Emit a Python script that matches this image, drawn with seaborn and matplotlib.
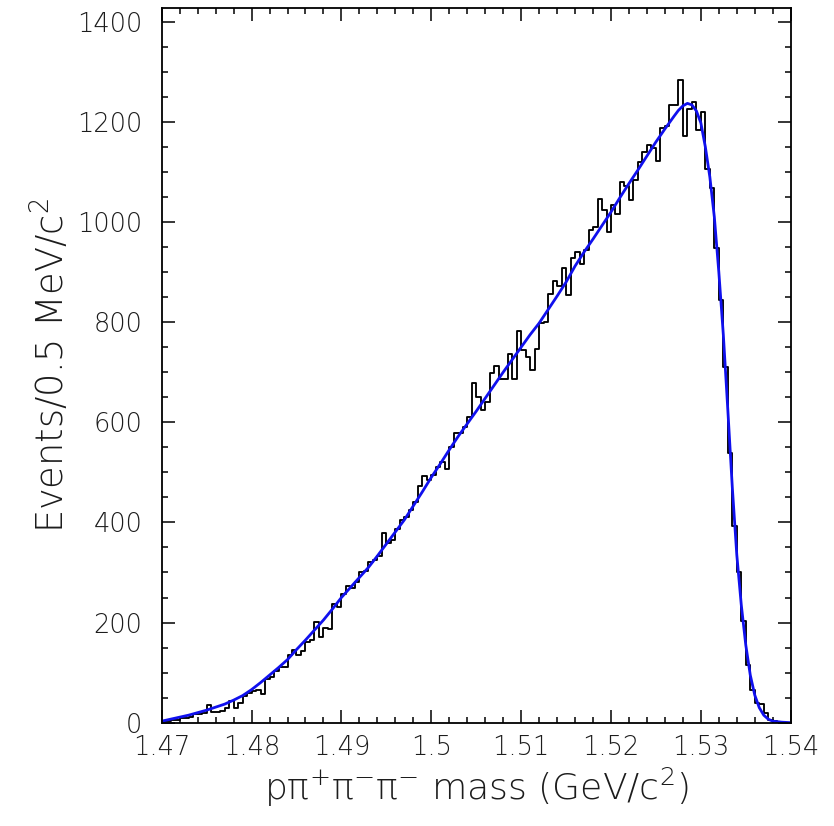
import numpy as np
import pandas as pd
import matplotlib
matplotlib.use("Agg")
import matplotlib.pyplot as plt
import matplotlib.ticker as mtick
import seaborn as sns

# contagens por bin de 0.5 MeV, de 1.47 a 1.54 GeV (140 bins)
contagens = [
    3, 4, 5, 6, 9, 10, 11, 17, 17, 19,
    36, 21, 22, 23, 29, 44, 29, 40, 54, 60,
    64, 66, 57, 87, 92, 104, 112, 112, 136, 145,
    136, 143, 161, 165, 201, 171, 189, 187, 237, 231,
    257, 273, 269, 281, 301, 303, 320, 325, 332, 379,
    359, 365, 387, 404, 411, 425, 440, 472, 492, 484,
    494, 511, 521, 507, 551, 579, 579, 591, 611, 678,
    651, 625, 641, 699, 712, 687, 687, 736, 687, 782,
    745, 731, 704, 747, 799, 801, 856, 882, 872, 909,
    854, 929, 941, 916, 944, 984, 990, 1047, 1024, 981,
    1034, 1017, 1079, 1072, 1045, 1084, 1120, 1139, 1153, 1147,
    1122, 1188, 1192, 1234, 1234, 1284, 1171, 1225, 1239, 1184,
    1220, 1105, 1067, 949, 844, 711, 539, 392, 300, 203,
    115, 65, 40, 38, 20, 6, 3, 1, 0, 0,
]

# curva do ajuste (massa em GeV, eventos por bin)
ajuste_x = [
    1.470, 1.471, 1.472, 1.473, 1.474, 1.475, 1.476, 1.477, 1.478, 1.479,
    1.480, 1.481, 1.482, 1.483, 1.484, 1.485, 1.486, 1.487, 1.488, 1.489,
    1.490, 1.491, 1.492, 1.493, 1.494, 1.495, 1.496, 1.497, 1.498, 1.499,
    1.500, 1.501, 1.502, 1.503, 1.504, 1.505, 1.506, 1.507, 1.508, 1.509,
    1.510, 1.511, 1.512, 1.513, 1.514, 1.515, 1.516, 1.517, 1.518, 1.519,
    1.520, 1.521, 1.522, 1.523, 1.524, 1.525, 1.526, 1.527, 1.5275, 1.528,
    1.5285, 1.529, 1.5295, 1.530, 1.5305, 1.531, 1.5315, 1.532, 1.5325, 1.533,
    1.5335, 1.534, 1.5345, 1.535, 1.5355, 1.536, 1.5365, 1.537, 1.5375, 1.538,
    1.539, 1.540,
]
ajuste_y = [
    3, 7, 11, 15, 20, 25, 31, 37, 45, 54,
    66, 80, 95, 110, 126, 146, 165, 185, 205, 227,
    250, 270, 290, 310, 333, 357, 381, 405, 433, 461,
    490, 517, 545, 572, 597, 622, 648, 674, 700, 725,
    750, 775, 798, 825, 852, 880, 912, 940, 966, 993,
    1020, 1049, 1077, 1104, 1132, 1160, 1186, 1211, 1223, 1232,
    1237, 1234, 1222, 1198, 1150, 1090, 1010, 900, 775, 625,
    470, 335, 235, 155, 95, 55, 30, 15, 7, 3,
    1, 0,
]

ticks_x = [1.47, 1.48, 1.49, 1.50, 1.51, 1.52, 1.53, 1.54]
rotulos_x = ['1.47', '1.48', '1.49', '1.5', '1.51', '1.52', '1.53', '1.54']
ticks_y = [0, 200, 400, 600, 800, 1000, 1200, 1400]
rotulos_y = ['0', '200', '400', '600', '800', '1000', '1200', '1400']

sns.set_theme(style="ticks")
plt.rcParams['font.family'] = ['DejaVu Sans']
plt.rcParams['font.weight'] = 'light'
plt.rcParams['mathtext.default'] = 'regular'

cor_texto = '#1c1c1c'

n_bins = len(contagens)
bordas = np.linspace(1.47, 1.54, n_bins + 1)
df_hist = pd.DataFrame({'massa': (bordas[:-1] + bordas[1:]) / 2, 'eventos': contagens})
df_ajuste = pd.DataFrame({'massa': ajuste_x, 'eventos': ajuste_y})

fig = plt.figure(figsize=(8.34, 8.26), dpi=100)
ax = fig.add_axes([0.1939, 0.1251, 0.7542, 0.8649])

sns.histplot(data=df_hist, x='massa', weights='eventos', bins=n_bins, binrange=(1.47, 1.54),
             element='step', fill=False, color='black', linewidth=1.35, ax=ax)
sns.lineplot(data=df_ajuste, x='massa', y='eventos', color='#1010ee', linewidth=2.0, ax=ax)

ax.set_xlim(1.47, 1.54)
ax.set_ylim(0, 1427)
ax.set_xticks(ticks_x, rotulos_x)
ax.set_yticks(ticks_y, rotulos_y)
ax.xaxis.set_minor_locator(mtick.MultipleLocator(0.002))
ax.yaxis.set_minor_locator(mtick.MultipleLocator(50))

ax.tick_params(which='both', direction='in', top=True, right=True, width=1.1, color='black')
ax.tick_params(which='major', length=9.5)
ax.tick_params(which='minor', length=4.5)
ax.tick_params(axis='x', which='major', pad=9, labelsize=18.5, labelcolor=cor_texto)
ax.tick_params(axis='y', which='major', pad=14, labelsize=18.5, labelcolor=cor_texto)

for lado in ax.spines.values():
    lado.set_linewidth(1.3)
    lado.set_color('black')

ax.set_xlabel(r'p$\pi^{+}\pi^{-}\pi^{-}$ mass (GeV/c$^{2}$)', fontsize=26, fontweight='light',
              color=cor_texto)
ax.set_ylabel('Events/0.5 MeV/c$^{2}$', fontsize=26.5, fontweight='light', color=cor_texto)
ax.xaxis.set_label_coords(0.5, -0.09)
ax.xaxis.label.set_verticalalignment('center')
ax.yaxis.set_label_coords(-0.177, 0.50)
ax.yaxis.label.set_verticalalignment('center')

fig.savefig('out.png', dpi=100)
